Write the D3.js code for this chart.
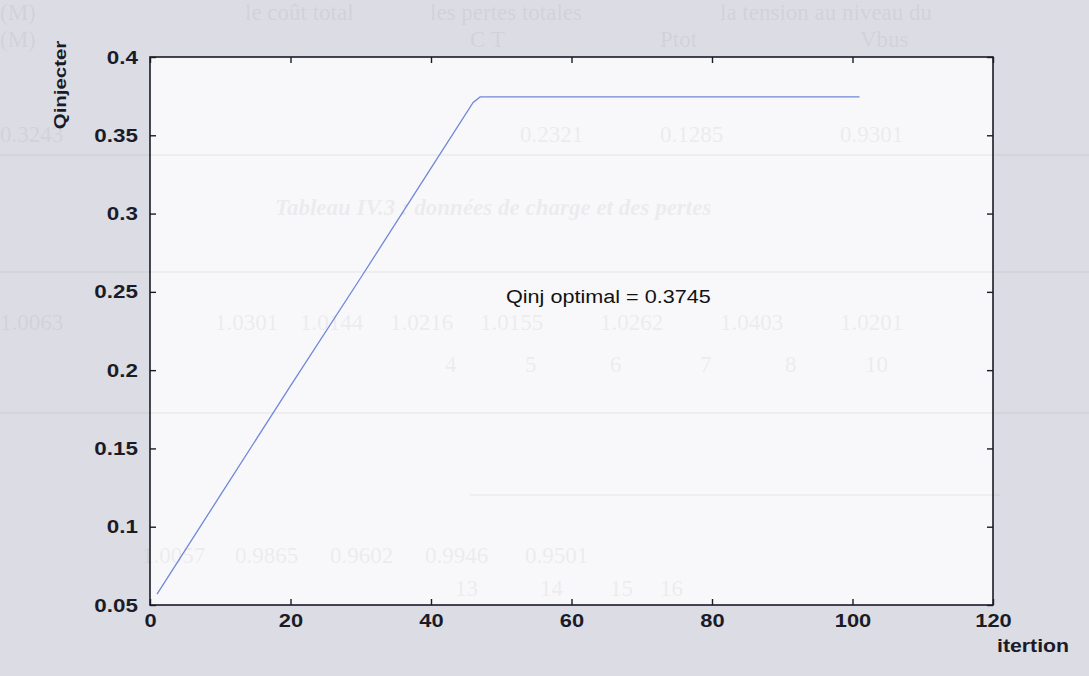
<!DOCTYPE html>
<html>
<head>
<meta charset="utf-8">
<script src="https://cdn.jsdelivr.net/npm/d3@7"></script>
<style>
  html, body { margin: 0; padding: 0; background: #dcdde4; }
  svg { display: block; }
</style>
</head>
<body>
<svg id="chart" width="1089" height="676"></svg>
<script>
// ---- data ----
const iterations = [1, 10, 20, 30, 40, 46, 47, 60, 80, 101];
const qinj = [0.057, 0.120, 0.190, 0.259, 0.329, 0.371, 0.3745, 0.3745, 0.3745, 0.3745];
const xTicks = [0, 20, 40, 60, 80, 100, 120];
const yTicks = [0.05, 0.1, 0.15, 0.2, 0.25, 0.3, 0.35, 0.4];
const yTickLabels = ["0.05", "0.1", "0.15", "0.2", "0.25", "0.3", "0.35", "0.4"];
const xLabel = "itertion";
const yLabel = "Qinjecter";
const annotation = "Qinj optimal = 0.3745";

// faint show-through text from the scanned page behind the chart
const ghostTexts = [
  {t: "(M)", x: 0, y: 20}, {t: "le coût total", x: 245, y: 20},
  {t: "les pertes totales", x: 430, y: 20}, {t: "la tension au niveau du", x: 720, y: 20},
  {t: "(M)", x: 0, y: 47}, {t: "C T", x: 470, y: 47}, {t: "Ptot", x: 660, y: 47}, {t: "Vbus", x: 860, y: 47},
  {t: "0.3243", x: 0, y: 142}, {t: "0.2321", x: 520, y: 142},
  {t: "0.1285", x: 660, y: 142}, {t: "0.9301", x: 840, y: 142},
  {t: "Tableau IV.3 : données de charge et des pertes", x: 275, y: 215, bold: true},
  {t: "1.0063", x: 0, y: 330}, {t: "1.0301", x: 215, y: 330}, {t: "1.0144", x: 300, y: 330},
  {t: "1.0216", x: 390, y: 330}, {t: "1.0155", x: 480, y: 330}, {t: "1.0262", x: 600, y: 330},
  {t: "1.0403", x: 720, y: 330}, {t: "1.0201", x: 840, y: 330},
  {t: "4", x: 445, y: 372}, {t: "5", x: 525, y: 372}, {t: "6", x: 610, y: 372},
  {t: "7", x: 700, y: 372}, {t: "8", x: 785, y: 372}, {t: "10", x: 865, y: 372},
  {t: "1.0057", x: 142, y: 563}, {t: "0.9865", x: 235, y: 563}, {t: "0.9602", x: 330, y: 563},
  {t: "0.9946", x: 425, y: 563}, {t: "0.9501", x: 525, y: 563},
  {t: "13", x: 455, y: 596}, {t: "14", x: 540, y: 596}, {t: "15", x: 610, y: 596}, {t: "16", x: 660, y: 596}
];
const ghostRules = [[0, 1089, 155], [0, 1089, 272], [0, 1089, 413], [470, 1000, 495]];

const svg = d3.select("#chart");
const x = d3.scaleLinear().domain([0, 120]).range([150, 993]);
const y = d3.scaleLinear().domain([0.05, 0.4]).range([605, 57]);

const stretch = (sel, f) => sel.each(function () {
  const len = this.getComputedTextLength();
  d3.select(this).attr("textLength", len * f).attr("lengthAdjust", "spacingAndGlyphs");
});

// plot area background
svg.append("rect")
  .attr("x", x(0)).attr("y", y(0.4))
  .attr("width", x(120) - x(0)).attr("height", y(0.05) - y(0.4))
  .attr("fill", "#f8f8fa");

// ghost layer
const ghost = svg.append("g").attr("opacity", 0.07);
ghost.selectAll("text").data(ghostTexts).join("text")
  .attr("x", d => d.x).attr("y", d => d.y)
  .attr("font-family", "Liberation Serif, serif")
  .attr("font-size", 23)
  .attr("font-weight", d => d.bold ? "bold" : "normal")
  .attr("font-style", d => d.bold ? "italic" : "normal")
  .attr("fill", "#555")
  .text(d => d.t);
ghost.selectAll("line").data(ghostRules).join("line")
  .attr("x1", d => d[0]).attr("x2", d => d[1])
  .attr("y1", d => d[2]).attr("y2", d => d[2])
  .attr("stroke", "#777").attr("stroke-width", 2);

// line
const pts = iterations.map((it, i) => [it, qinj[i]]);
svg.append("path")
  .datum(pts)
  .attr("fill", "none")
  .attr("stroke", "#7088d8")
  .attr("stroke-width", 1.3)
  .attr("d", d3.line().x(d => x(d[0])).y(d => y(d[1])));

// axes
const axisFont = "Liberation Sans, Arial, sans-serif";
const gx = svg.append("g").attr("transform", `translate(0,${y(0.05)})`)
  .call(d3.axisBottom(x).tickValues(xTicks).tickFormat(d3.format("d"))
    .tickSizeInner(-6).tickSizeOuter(0).tickPadding(9));
const gy = svg.append("g").attr("transform", `translate(${x(0)},0)`)
  .call(d3.axisLeft(y).tickValues(yTicks).tickFormat((d, i) => yTickLabels[i])
    .tickSizeInner(-6).tickSizeOuter(0).tickPadding(12));
const gt = svg.append("g").attr("transform", `translate(0,${y(0.4)})`)
  .call(d3.axisTop(x).tickValues(xTicks).tickFormat("").tickSizeInner(-6).tickSizeOuter(0));
const gr = svg.append("g").attr("transform", `translate(${x(120)},0)`)
  .call(d3.axisRight(y).tickValues(yTicks).tickFormat("").tickSizeInner(-6).tickSizeOuter(0));
[gx, gy, gt, gr].forEach(g => {
  g.select(".domain").remove();
  g.selectAll(".tick line").attr("stroke", "#1b1b28").attr("stroke-width", 1.4);
  g.selectAll("text").attr("font-family", axisFont).attr("font-weight", "bold")
    .attr("font-size", 19).attr("fill", "#1b1b28");
});
gx.selectAll(".tick text").call(stretch, 1.15);
gy.selectAll(".tick text").call(stretch, 1.18);

// frame
svg.append("rect")
  .attr("x", x(0)).attr("y", y(0.4))
  .attr("width", x(120) - x(0)).attr("height", y(0.05) - y(0.4))
  .attr("fill", "none").attr("stroke", "#1b1b28").attr("stroke-width", 1.6);

// axis labels
svg.append("text")
  .attr("x", 997).attr("y", 652)
  .attr("font-family", axisFont).attr("font-weight", "bold").attr("font-size", 19)
  .attr("fill", "#1b1b28")
  .text(xLabel).call(stretch, 1.12);
svg.append("text")
  .attr("transform", `translate(66,85) rotate(-90)`)
  .attr("text-anchor", "middle")
  .attr("font-family", axisFont).attr("font-weight", "bold").attr("font-size", 17)
  .attr("fill", "#1b1b28")
  .text(yLabel).call(stretch, 1.2);

// annotation
svg.append("text")
  .attr("x", 506).attr("y", 303)
  .attr("font-family", axisFont).attr("font-size", 18)
  .attr("fill", "#111")
  .text(annotation).call(stretch, 1.2);
</script>
</body>
</html>
